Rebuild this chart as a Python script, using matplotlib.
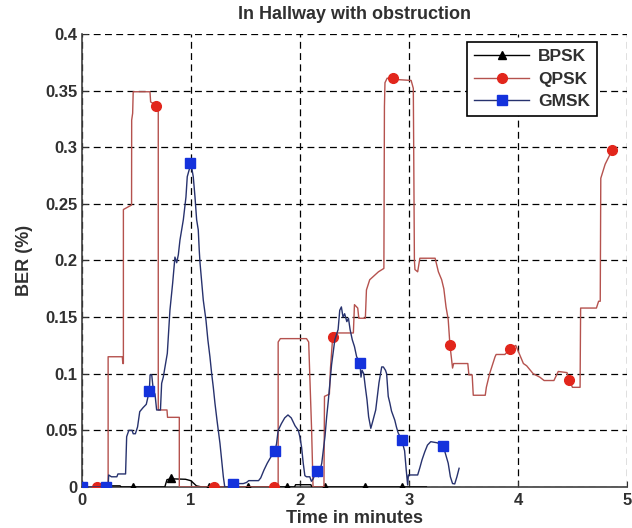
import matplotlib
matplotlib.use("Agg")
import matplotlib.pyplot as plt
from matplotlib.lines import Line2D

# ---------------- data ----------------
title = "In Hallway with obstruction"
xlabel = "Time in minutes"
ylabel = "BER (%)"
series_names = ["BPSK", "QPSK", "GMSK"]

xticks = [0, 1, 2, 3, 4, 5]
yticks = [0, 0.05, 0.1, 0.15, 0.2, 0.25, 0.3, 0.35, 0.4]
ytick_labels = ["0", "0.05", "0.1", "0.15", "0.2", "0.25", "0.3", "0.35", "0.4"]

# BPSK line (time, BER)
bpsk_pts = [(0.0, 0.0), (0.22, 0.0), (0.23, 0.001), (0.35, 0.001), (0.36, 0.0),
            (0.76, 0.0), (0.78, 0.0065), (0.82, 0.0072), (0.95, 0.0068), (1.00, 0.0055),
            (1.05, 0.001), (1.10, 0.0), (1.95, 0.0), (1.96, 0.002), (2.10, 0.002),
            (2.11, 0.0), (3.16, 0.0)]
bpsk_mt = [0.12, 0.47, 0.82, 1.17, 1.526, 1.878, 2.23, 2.596, 2.933]
bpsk_mv = [0.0, 0.0, 0.0077, 0.0, 0.0, 0.0, 0.0, 0.0, 0.0]

# QPSK line (time, BER)
qpsk_pts = [(0.0, 0.0), (0.24, 0.0), (0.24, 0.115), (0.37, 0.115), (0.375, 0.109),
            (0.38, 0.109), (0.38, 0.245), (0.455, 0.249), (0.456, 0.324), (0.465, 0.330),
            (0.47, 0.349), (0.624, 0.349), (0.63, 0.340), (0.70, 0.336), (0.70, 0.068),
            (0.78, 0.068), (0.785, 0.0615), (0.893, 0.0615), (0.893, 0.0),
            (1.80, 0.0), (1.80, 0.128), (1.82, 0.131), (2.06, 0.131), (2.08, 0.128),
            (2.107, 0.05), (2.12, 0.0), (2.22, 0.0), (2.225, 0.08), (2.27, 0.082),
            (2.28, 0.105), (2.30, 0.132), (2.31, 0.136), (2.49, 0.136), (2.50, 0.161),
            (2.53, 0.158), (2.54, 0.149), (2.60, 0.149), (2.61, 0.174), (2.64, 0.183),
            (2.72, 0.190), (2.77, 0.193), (2.775, 0.336), (2.78, 0.357), (2.80, 0.361),
            (2.85, 0.360), (3.02, 0.359), (3.04, 0.352), (3.05, 0.20), (3.055, 0.192),
            (3.08, 0.190), (3.10, 0.202), (3.13, 0.202), (3.24, 0.202), (3.27, 0.19),
            (3.30, 0.183), (3.32, 0.175), (3.34, 0.159), (3.36, 0.148), (3.376, 0.1254),
            (3.40, 0.105), (3.41, 0.109), (3.45, 0.109), (3.54, 0.109), (3.55, 0.099),
            (3.58, 0.099), (3.59, 0.081), (3.70, 0.081), (3.71, 0.088), (3.74, 0.10),
            (3.79, 0.115), (3.80, 0.117), (3.88, 0.117), (3.93, 0.122), (3.98, 0.125),
            (4.05, 0.109), (4.08, 0.107), (4.14, 0.100), (4.20, 0.097), (4.24, 0.094),
            (4.33, 0.094), (4.37, 0.102), (4.45, 0.101), (4.47, 0.0945), (4.50, 0.088),
            (4.55, 0.088), (4.57, 0.088), (4.575, 0.158), (4.72, 0.158), (4.74, 0.164),
            (4.755, 0.164), (4.76, 0.2726), (4.80, 0.285), (4.865, 0.2976)]
qpsk_mt = [0.134, 0.679, 1.21, 1.76, 2.30, 2.85, 3.376, 3.93, 4.47, 4.865]
qpsk_mv = [0.0, 0.336, 0.0, 0.0, 0.132, 0.361, 0.1254, 0.122, 0.0945, 0.2976]

# GMSK line (time, BER)
gmsk_pts = [(0.0, 0.0), (0.24, 0.0), (0.245, 0.0106), (0.27, 0.009), (0.32, 0.009),
            (0.33, 0.0115), (0.40, 0.0115), (0.41, 0.0444), (0.43, 0.050), (0.46, 0.050),
            (0.47, 0.047), (0.49, 0.047), (0.51, 0.053), (0.53, 0.0665), (0.56, 0.070),
            (0.59, 0.073), (0.618, 0.0848), (0.625, 0.099), (0.64, 0.099), (0.655, 0.085),
            (0.67, 0.082), (0.685, 0.068), (0.72, 0.068), (0.731, 0.0915), (0.746, 0.097),
            (0.783, 0.118), (0.807, 0.156), (0.832, 0.18), (0.853, 0.203), (0.869, 0.198),
            (0.884, 0.205), (0.899, 0.218), (0.915, 0.227), (0.93, 0.236), (0.954, 0.256),
            (0.966, 0.274), (1.0, 0.2858), (1.021, 0.274), (1.037, 0.256), (1.052, 0.236),
            (1.067, 0.227), (1.076, 0.209), (1.083, 0.198), (1.113, 0.165), (1.138, 0.147),
            (1.155, 0.130), (1.174, 0.115), (1.19, 0.100), (1.205, 0.088), (1.22, 0.074),
            (1.24, 0.058), (1.266, 0.0386), (1.28, 0.025), (1.297, 0.009), (1.31, 0.0),
            (1.36, 0.0), (1.39, 0.003), (1.48, 0.003), (1.51, 0.004), (1.53, 0.0056),
            (1.62, 0.0056), (1.64, 0.008), (1.67, 0.015), (1.70, 0.021), (1.73, 0.026),
            (1.77, 0.032), (1.785, 0.038), (1.80, 0.050), (1.83, 0.056), (1.86, 0.061),
            (1.89, 0.0636), (1.92, 0.061), (1.955, 0.054), (1.985, 0.050), (2.00, 0.044),
            (2.015, 0.035), (2.03, 0.021), (2.045, 0.010), (2.06, 0.009), (2.09, 0.009),
            (2.105, 0.005), (2.12, 0.007), (2.153, 0.0144), (2.17, 0.009), (2.185, 0.015),
            (2.20, 0.021), (2.215, 0.0327), (2.23, 0.045), (2.245, 0.062), (2.26, 0.076),
            (2.275, 0.092), (2.29, 0.108), (2.305, 0.119), (2.32, 0.130), (2.35, 0.139),
            (2.365, 0.156), (2.38, 0.159), (2.395, 0.150), (2.41, 0.153), (2.43, 0.146),
            (2.445, 0.149), (2.46, 0.139), (2.48, 0.130), (2.50, 0.124), (2.52, 0.115),
            (2.55, 0.1098), (2.56, 0.097), (2.57, 0.103), (2.585, 0.100), (2.60, 0.088),
            (2.615, 0.077), (2.63, 0.062), (2.65, 0.0518), (2.665, 0.057), (2.695, 0.068),
            (2.71, 0.080), (2.725, 0.092), (2.75, 0.106), (2.765, 0.106), (2.785, 0.103),
            (2.795, 0.100), (2.81, 0.080), (2.825, 0.074), (2.84, 0.067), (2.87, 0.059),
            (2.885, 0.053), (2.90, 0.048), (2.933, 0.0415), (2.96, 0.032), (2.975, 0.015),
            (2.988, 0.0018), (2.995, 0.0106), (3.04, 0.0106), (3.08, 0.0106), (3.10, 0.017),
            (3.12, 0.024), (3.145, 0.031), (3.17, 0.037), (3.20, 0.040), (3.26, 0.039),
            (3.315, 0.0362), (3.33, 0.031), (3.36, 0.021), (3.38, 0.009), (3.40, 0.003),
            (3.42, 0.0027), (3.44, 0.009), (3.46, 0.0165)]
gmsk_mt = [0.0, 0.225, 0.618, 0.99, 1.39, 1.77, 2.153, 2.55, 2.933, 3.315]
gmsk_mv = [0.0, 0.0, 0.0848, 0.2858, 0.003, 0.032, 0.0144, 0.1098, 0.0415, 0.0362]

bpsk_t, bpsk_v = zip(*bpsk_pts)
qpsk_t, qpsk_v = zip(*qpsk_pts)
gmsk_t, gmsk_v = zip(*gmsk_pts)

# ---------------- styling ----------------
plt.rcParams['font.family'] = ['Liberation Sans', 'DejaVu Sans']
plt.rcParams['font.weight'] = 'bold'

bpsk_line = "#000000"
qpsk_line = "#b5524e"
qpsk_mark = "#e2261c"
gmsk_line = "#27326e"
gmsk_mark = "#1432dc"

fig = plt.figure(figsize=(6.32, 5.28), dpi=100)
ax = fig.add_axes([0.1297, 0.0777, 0.8623, 0.8579])

ax.plot(bpsk_t, bpsk_v, color=bpsk_line, lw=1.0, zorder=3)
ax.plot(bpsk_mt, bpsk_mv, ls='none', marker='^', ms=6, color='black', zorder=3)

ax.plot(qpsk_t, qpsk_v, color=qpsk_line, lw=1.0, zorder=4)
ax.plot(qpsk_mt, qpsk_mv, ls='none', marker='o', ms=7, mfc=qpsk_mark, mec=qpsk_mark, zorder=4)

ax.plot(gmsk_t, gmsk_v, color=gmsk_line, lw=1.0, zorder=5)
ax.plot(gmsk_mt, gmsk_mv, ls='none', marker='s', ms=7, mfc=gmsk_mark, mec=gmsk_mark, zorder=5)

ax.set_xlim(0, 5)
ax.set_ylim(0, 0.4)
ax.set_xticks(xticks)
ax.set_xticklabels([str(v) for v in xticks])
ax.set_yticks(yticks)
ax.set_yticklabels(ytick_labels)

ax.grid(True, color='black', ls=(0, (5.5, 3.5)), lw=0.9)
ax.set_axisbelow(True)
for s in ['top', 'right']:
    ax.spines[s].set_visible(False)
for s in ['left', 'bottom']:
    ax.spines[s].set_color('#404040')
    ax.spines[s].set_linewidth(1.2)
ax.tick_params(direction='in', length=4, labelsize=12, colors='#303030')
ax.tick_params(axis='x', pad=4)
ax.tick_params(axis='y', pad=3)
for lbl in ax.get_xticklabels() + ax.get_yticklabels():
    lbl.set_fontweight('bold')

ax.set_title(title, fontsize=13, fontweight='bold', color='#303030', pad=11)
ax.set_xlabel(xlabel, fontsize=13, fontweight='bold', color='#303030', labelpad=2)
ax.set_ylabel(ylabel, fontsize=13, fontweight='bold', color='#303030', labelpad=9)

handles = [
    Line2D([], [], color=bpsk_line, lw=1.0, marker='^', ms=6, mfc='black', mec='black'),
    Line2D([], [], color=qpsk_line, lw=1.0, marker='o', ms=7, mfc=qpsk_mark, mec=qpsk_mark),
    Line2D([], [], color=gmsk_line, lw=1.0, marker='s', ms=7, mfc=gmsk_mark, mec=gmsk_mark),
]
leg = ax.legend(handles, series_names, loc='upper right', bbox_to_anchor=(0.945, 0.982),
                borderaxespad=0.0,
                fancybox=False, framealpha=1, edgecolor='black', fontsize=12.5,
                handlelength=3.2, borderpad=0.4, labelspacing=0.42, handletextpad=0.5)
leg.get_frame().set_linewidth(1.2)
for t in leg.get_texts():
    t.set_fontweight('bold')
    t.set_color('#303030')

fig.savefig("out.png", dpi=100)
